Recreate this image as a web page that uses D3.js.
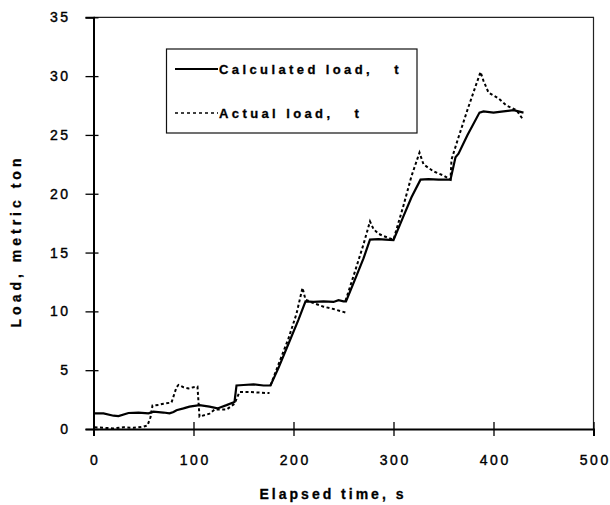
<!DOCTYPE html>
<html><head><meta charset="utf-8">
<script src="https://cdn.jsdelivr.net/npm/d3@7"></script>
<style>body{margin:0;background:#fff}</style>
</head><body><svg id="c" width="610" height="505"></svg>
<script>
const xTicks = [0, 100, 200, 300, 400, 500];
const yTicks = [0, 5, 10, 15, 20, 25, 30, 35];
const xTitle = "Elapsed time, s";
const yTitle = "Load, metric ton";
const legendLabels = ["Calculated load,   t", "Actual load,   t"];

// [time s, load t]
const calculated = [
  [1,1.33],[10,1.33],[20,1.13],[25,1.1],[35,1.36],[45,1.4],[55,1.33],[60,1.47],[70,1.4],[76,1.33],
  [80,1.45],[83,1.6],[90,1.75],[96,1.9],[106,2.03],[116,1.9],[124,1.75],[133,2.03],[141,2.3],
  [143,3.7],[150,3.74],[160,3.8],[170,3.7],[177,3.7],
  [185,5.2],[195,7.25],[205,9.3],[212,10.85],
  [220,10.8],[230,10.85],[240,10.8],[245,10.95],[250,10.85],[252.5,10.85],
  [260,12.4],[270,14.5],[276.5,16.1],
  [285,16.15],[292,16.1],[300,16.05],
  [310,18.1],[318,19.7],[327,21.2],
  [335,21.25],[345,21.2],[357,21.2],
  [362,23.1],[365,23.4],[374,25.0],[386,26.9],
  [390,27.0],[400,26.9],[410,27.0],[420,27.1],[425,27.0],[430,26.9]
];
// null marks a break in the record
const actual = [
  [1,0.15],[10,0.1],[20,0.05],[30,0.15],[40,0.1],[50,0.2],[54,0.3],[57,1.0],
  [59,2.0],[65,2.05],[70,2.15],[78,2.25],
  [83,3.55],[85,3.75],[90,3.55],[95,3.45],[100,3.55],[104,3.6],[105,2.3],[106,1.05],
  [116,1.3],[121,1.65],[133,1.65],[141,2.15],[146,3.15],[155,3.15],[165,3.1],[176,3.05],
  null,
  [177,3.7],[185,5.5],[195,7.7],[203,9.8],[209,12.0],[212,11.0],[220,10.7],[230,10.4],[240,10.2],[252,9.9],
  null,
  [252,10.9],[260,13.0],[270,15.7],[276.5,17.65],[280,17.0],[285,16.6],[290,16.4],[300,16.1],
  [310,19.0],[318,21.5],[326,23.5],[330,22.5],[340,21.9],[350,21.55],[357,21.2],
  [358,22.9],[365,24.8],[375,27.4],[387,30.35],[390,29.6],[395,28.6],[405,28.1],[413,27.5],[423,27.1],[430,26.25]
];

const svg = d3.select("#c");
svg.append("rect").attr("width",610).attr("height",505).attr("fill","#fff");
const x = d3.scaleLinear().domain([0,500]).range([93.5,593.5]);
const y = d3.scaleLinear().domain([0,35]).range([429,17.3]);
const FONT = "'Liberation Sans', Arial, sans-serif";

// frame (top & right)
svg.append("path")
  .attr("d", `M${x(0)},${y(35)}H${x(500)}V${y(0)}`)
  .attr("fill","none").attr("stroke","#222").attr("stroke-width",1.2);

// x axis
const gx = svg.append("g").attr("transform",`translate(0,${y(0)})`)
  .call(d3.axisBottom(x).tickValues(xTicks).tickSizeOuter(0).tickSize(7).tickPadding(19));
gx.select(".domain").attr("stroke","#000").attr("stroke-width",2);
gx.selectAll(".tick line").attr("y1",-7).attr("y2",7).attr("stroke","#000").attr("stroke-width",1.3);
gx.selectAll("text").attr("font-family",FONT).attr("font-size",14).attr("fill","#000")
  .attr("stroke","#000").attr("stroke-width",0.4)
  .style("letter-spacing","2.5px").attr("dx","1.25");

// y axis
const gy = svg.append("g").attr("transform",`translate(${x(0)},0)`)
  .call(d3.axisLeft(y).tickValues(yTicks).tickSizeOuter(0).tickSize(8).tickPadding(15));
gy.select(".domain").attr("stroke","#000").attr("stroke-width",2);
gy.selectAll(".tick line").attr("x1",-8).attr("x2",5).attr("stroke","#000").attr("stroke-width",1.3);
gy.selectAll("text").attr("font-family",FONT).attr("font-size",14).attr("fill","#000")
  .attr("stroke","#000").attr("stroke-width",0.4)
  .style("letter-spacing","2.5px");

// series
const line = d3.line().defined(d => d !== null).x(d => x(d[0])).y(d => y(d[1]));
svg.append("path").datum(actual).attr("d",line)
  .attr("fill","none").attr("stroke","#000").attr("stroke-width",2)
  .attr("stroke-dasharray","3,2.5");
svg.append("path").datum(calculated).attr("d",line)
  .attr("fill","none").attr("stroke","#000").attr("stroke-width",2.2);

// legend
const lg = svg.append("g");
lg.append("rect").attr("x",166.5).attr("y",49).attr("width",250.5).attr("height",84)
  .attr("fill","#fff").attr("stroke","#111").attr("stroke-width",1.2);
const legY = [69, 113];
const dashes = [null, "3,3"];
legendLabels.forEach((lab,i) => {
  lg.append("line").attr("x1",175).attr("x2",218).attr("y1",legY[i]).attr("y2",legY[i])
    .attr("stroke","#000").attr("stroke-width",i===0?2:1.5)
    .attr("stroke-dasharray",dashes[i]);
  lg.append("text").attr("x",219).attr("y",legY[i]+5)
    .attr("font-family",FONT).attr("font-size",13).attr("font-weight","bold")
    .attr("stroke","#000").attr("stroke-width",0.3)
    .style("letter-spacing","3.4px").style("white-space","pre").text(lab);
});

// titles
svg.append("text").attr("x",333).attr("y",499).attr("text-anchor","middle")
  .attr("font-family",FONT).attr("font-size",14).attr("font-weight","bold")
  .attr("stroke","#000").attr("stroke-width",0.3)
  .style("letter-spacing","3px").text(xTitle);
svg.append("text").attr("transform","translate(21,241) rotate(-90)").attr("text-anchor","middle")
  .attr("font-family",FONT).attr("font-size",14).attr("font-weight","bold")
  .attr("stroke","#000").attr("stroke-width",0.3)
  .style("letter-spacing","4px").text(yTitle);
</script></body></html>
